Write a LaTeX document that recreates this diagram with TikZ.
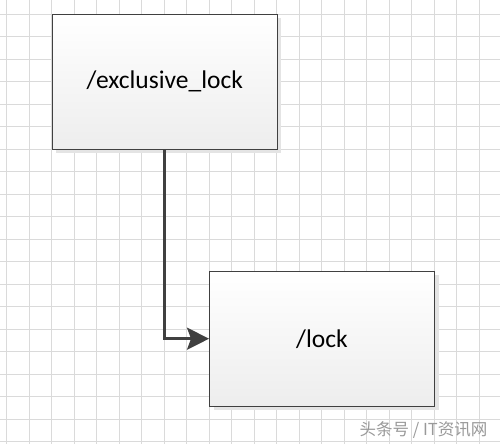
\documentclass[tikz,border=0pt]{standalone}
\usepackage{fontspec}
\newfontfamily\boxfont{Carlito}
\newfontfamily\cjk{Noto Sans CJK SC}
\usetikzlibrary{positioning, arrows.meta, shadows}

\definecolor{linegray}{HTML}{404040}
\definecolor{gridgray}{HTML}{DADADA}
\definecolor{shadowgray}{HTML}{E4E4E4}

\begin{document}
\begin{tikzpicture}[x=1pt, y=-1pt, node distance = 2.5cm, on grid,
    block/.style = {draw=linegray, line width=0.9pt, top color=white, bottom color=black!7,
      minimum width=225pt, minimum height=135pt, inner sep=0pt,
      font=\boxfont\fontsize{25.5}{30}\selectfont,
      drop shadow={shadow xshift=4pt, shadow yshift=-4pt, fill=shadowgray, opacity=1}},
    flow/.style = {draw=linegray, line width=2.7pt,
      -{Stealth[length=22pt, width=22pt, inset=4pt]}},
    gridline/.style = {draw=gridgray, line width=0.8pt},
    watermark/.style = {text=black!40, font=\cjk\fontsize{16.5}{19}\selectfont}]
  \useasboundingbox (0,0) rectangle (500,444);
  \fill[white] (0,0) rectangle (500,444);
  % background grid
  \foreach \k in {0,...,22}
    \draw[gridline] (6.7+22.5*\k,0) -- (6.7+22.5*\k,444);
  \foreach \k in {-1,...,19}
    \draw[gridline] (0,14.3+22.5*\k) -- (500,14.3+22.5*\k);

  \node[block] (excl) at (164.8,81.7) {/exclusive\_lock};
  \node[block] (lock) [below right=257pt and 157.2pt of excl] {/lock};
  \path[flow] (excl.south) |- (lock.west);

  \node[watermark] (mark) at (423.5,430) {头条号 / IT资讯网};
\end{tikzpicture}
\end{document}
